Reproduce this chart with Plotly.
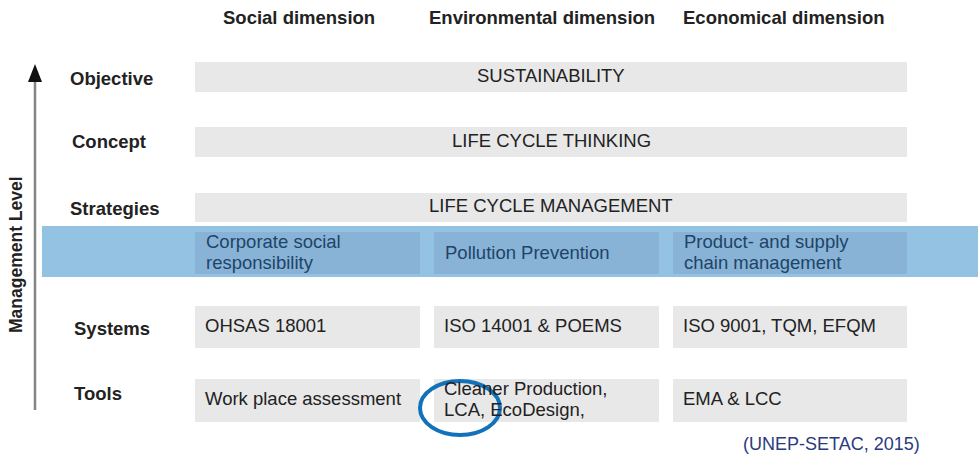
import plotly.graph_objects as go

# ---- data (text content of the diagram) ----
levels = ["Objective", "Concept", "Strategies", "Systems", "Tools"]
dimensions = ["Social dimension", "Environmental dimension", "Economical dimension"]
spanning_cells = ["SUSTAINABILITY", "LIFE CYCLE THINKING", "LIFE CYCLE MANAGEMENT"]
band_cells = ["Corporate social<br>responsibility", "Pollution Prevention",
              "Product- and supply<br>chain management"]
systems_cells = ["OHSAS 18001", "ISO 14001 & POEMS", "ISO 9001, TQM, EFQM"]
tools_cells = ["Work place assessment", "Cleaner Production,<br>LCA, EcoDesign,", "EMA & LCC"]
axis_title = "Management Level"
source_note = "(UNEP-SETAC, 2015)"

# ---- layout geometry (pixel space of a 978x455 canvas) ----
W, H = 978, 455
FONT = "Arial, Liberation Sans, sans-serif"
col_x = [(195, 420), (434, 659), (673, 907)]
header_cx = [299, 542, 784]
full_rows_y = [(62, 92), (127, 157), (193, 222)]
band_y = (226, 277)
band_inner_y = (232, 274)
systems_y = (306, 348)
tools_y = (379, 422)
label_pos = [(68, 78), (70, 141), (68, 208), (72, 328), (72, 393)]
LINE_GAP = 21

GRAY = "#E8E8E8"
TXT = "#222222"

shapes = []
ann = []

def rect(x0, y0, x1, y1, color):
    shapes.append(dict(type="rect", xref="x", yref="y", x0=x0, x1=x1, y0=y0, y1=y1,
                       fillcolor=color, line=dict(width=0), layer="below"))

def text(x, y, s, size=18.5, color=TXT, bold=False, xanchor="left", family=FONT, **kw):
    lines = s.split("<br>")
    n = len(lines)
    for i, ln in enumerate(lines):
        yy = y + (i - (n - 1) / 2) * LINE_GAP
        ann.append(dict(x=x, y=yy, xref="x", yref="y", text=(f"<b>{ln}</b>" if bold else ln),
                        showarrow=False, xanchor=xanchor, yanchor="middle", align="left",
                        font=dict(family=family, size=size, color=color), **kw))

# headers
for cx, h in zip(header_cx, dimensions):
    text(cx, 17, h, bold=True, xanchor="center")

# row labels
for (lx, ly), lab in zip(label_pos, levels):
    text(lx, ly, lab, bold=True)

# spanning rows
for (y0, y1), s in zip(full_rows_y, spanning_cells):
    rect(col_x[0][0], y0, col_x[2][1], y1, GRAY)
    text((col_x[0][0] + col_x[2][1]) / 2, (y0 + y1) / 2 - 2, s, xanchor="center")

# blue highlighted band
rect(42, band_y[0], W, band_y[1], "#94C2E2")
for (x0, x1), s in zip(col_x, band_cells):
    rect(x0, band_inner_y[0], x1, band_inner_y[1], "#88B3D6")
    text(x0 + 9, (band_inner_y[0] + band_inner_y[1]) / 2 - 1, s, color="#204468")

# systems and tools rows
for (yy, cells) in [(systems_y, systems_cells), (tools_y, tools_cells)]:
    for (x0, x1), s in zip(col_x, cells):
        rect(x0, yy[0], x1, yy[1], GRAY)
        text(x0 + 8, (yy[0] + yy[1]) / 2 - 2, s)

# vertical arrow + title
shapes.append(dict(type="line", xref="x", yref="y", x0=35, x1=35, y0=410, y1=80,
                   line=dict(color="#858585", width=2.5)))
shapes.append(dict(type="path", xref="x", yref="y", path="M 28 82 L 42 82 L 35 64 Z",
                   fillcolor="#111111", line=dict(width=0)))
text(16, 255, axis_title, size=17.5, bold=True, xanchor="center", textangle=-90)

# highlight ellipse
shapes.append(dict(type="circle", xref="x", yref="y", x0=420, x1=500, y0=381, y1=435,
                   line=dict(color="#1172BA", width=4), fillcolor="rgba(0,0,0,0)"))

# source note
text(922, 444, source_note, size=18, color="#2B3A80", xanchor="right")

fig = go.Figure()
fig.update_layout(
    width=W, height=H, margin=dict(l=0, r=0, t=0, b=0),
    paper_bgcolor="white", plot_bgcolor="white",
    xaxis=dict(range=[0, W], visible=False, fixedrange=True),
    yaxis=dict(range=[H, 0], visible=False, fixedrange=True),
    shapes=shapes, annotations=ann, showlegend=False,
)
fig.write_html("out.html", config={"displayModeBar": False},
               post_script="document.body.style.margin='0';document.body.style.overflow='hidden';")
